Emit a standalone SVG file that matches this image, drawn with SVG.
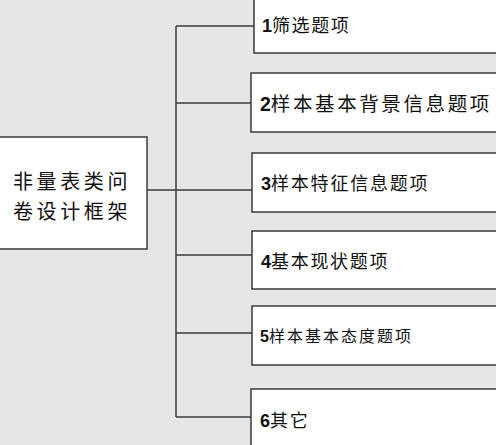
<svg xmlns="http://www.w3.org/2000/svg" width="496" height="445" viewBox="0 0 496 445">
<style>
.bg{fill:#e6e6e6}
.box{fill:#ffffff;stroke:#3a3a3a;stroke-width:1.5}
.conn{fill:none;stroke:#3a3a3a;stroke-width:1.5}
text{font-family:"Noto Sans CJK SC","Liberation Sans",sans-serif;fill:#111}
.n{font-family:"Liberation Sans","Noto Sans CJK SC",sans-serif;font-weight:bold}
</style>
<rect class="bg" x="0" y="0" width="496" height="445"/>
<g id="connectors">
<line class="conn" x1="176" y1="26" x2="176" y2="417"/>
<line class="conn" x1="147" y1="190" x2="252" y2="190"/>
<line class="conn" x1="176" y1="26" x2="254" y2="26"/>
<line class="conn" x1="176" y1="103" x2="251" y2="103"/>
<line class="conn" x1="176" y1="255" x2="252" y2="255"/>
<line class="conn" x1="176" y1="333" x2="252" y2="333"/>
<line class="conn" x1="176" y1="417" x2="251" y2="417"/>
</g>
<g id="root">
<rect class="box" x="-2" y="137" width="149" height="112"/>
<text font-size="20" letter-spacing="3.6"><tspan x="13" y="189">非量表类问</tspan><tspan x="13" y="218.5">卷设计框架</tspan></text>
</g>
<g id="n1">
<rect class="box" x="254" y="-5" width="250" height="58"/>
<text x="262" y="32" font-size="18" letter-spacing="1.6"><tspan class="n" letter-spacing="0">1</tspan>筛选题项</text>
</g>
<g id="n2">
<rect class="box" x="251" y="73" width="250" height="59"/>
<text x="260" y="111" font-size="19.5" letter-spacing="2.6"><tspan class="n" letter-spacing="0">2</tspan>样本基本背景信息题项</text>
</g>
<g id="n3">
<rect class="box" x="252" y="153" width="250" height="59"/>
<text x="261" y="190" font-size="18" letter-spacing="1.8"><tspan class="n" letter-spacing="0">3</tspan>样本特征信息题项</text>
</g>
<g id="n4">
<rect class="box" x="252" y="231" width="250" height="58"/>
<text x="261" y="268" font-size="18" letter-spacing="1.7"><tspan class="n" letter-spacing="0">4</tspan>基本现状题项</text>
</g>
<g id="n5">
<rect class="box" x="252" y="306" width="250" height="59"/>
<text x="260" y="342" font-size="16" letter-spacing="2"><tspan class="n" letter-spacing="0">5</tspan>样本基本态度题项</text>
</g>
<g id="n6">
<rect class="box" x="251" y="389" width="250" height="70"/>
<text x="260" y="427" font-size="18" letter-spacing="1.7"><tspan class="n" letter-spacing="0">6</tspan>其它</text>
</g>
</svg>
